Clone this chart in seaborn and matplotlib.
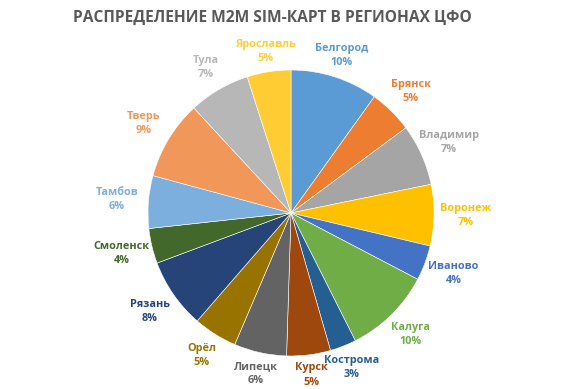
import matplotlib
matplotlib.use("Agg")
import matplotlib.pyplot as plt
import numpy as np
import seaborn as sns

sns.set_theme(style="white")
plt.rcParams['font.family'] = ['Open Sans', 'DejaVu Sans']

regions = ["Белгород", "Брянск", "Владимир", "Воронеж", "Иваново", "Калуга",
           "Кострома", "Курск", "Липецк", "Орёл", "Рязань", "Смоленск",
           "Тамбов", "Тверь", "Тула", "Ярославль"]
shares = [10, 5, 7, 7, 4, 10, 3, 5, 6, 5, 8, 4, 6, 9, 7, 5]
colors = ["#5B9BD5", "#ED7D31", "#A5A5A5", "#FFC000", "#4472C4", "#70AD47",
          "#255E91", "#9E480E", "#636363", "#997300", "#264478", "#43682B",
          "#7CAFDD", "#F1975A", "#B7B7B7", "#FFCD33"]
title = "РАСПРЕДЕЛЕНИЕ M2M SIM-КАРТ В РЕГИОНАХ ЦФО"

W, H = 575, 389
fig = plt.figure(figsize=(W / 100, H / 100), dpi=100)
fig.patch.set_facecolor("white")
cx, cy, r = 291, 213, 143
ax = fig.add_axes([(cx - r) / W, (H - cy - r) / H, 2 * r / W, 2 * r / H])

labels = [f"{n}\n{v}%" for n, v in zip(regions, shares)]
wedges, texts = ax.pie(shares, labels=labels, colors=colors, startangle=90,
                       counterclock=False, labeldistance=1.2,
                       wedgeprops=dict(edgecolor="white", linewidth=0.4),
                       textprops=dict(fontsize=7.8, fontweight="bold"))
for w, t, c in zip(wedges, texts, colors):
    mid = np.deg2rad((w.theta1 + w.theta2) / 2)
    d = 1.13 + 0.09 * abs(np.cos(mid))
    t.set_position((d * np.cos(mid), d * np.sin(mid)))
    t.set_color(c)
    t.set_ha("center")
    t.set_va("center")
    t.set_linespacing(1.4)
ax.set_xlim(-1, 1)
ax.set_ylim(-1, 1)
ax.set_aspect("equal")

fig.text(272 / W, 1 - 18 / H, title, ha="center", va="center",
         fontsize=11.2, fontweight="bold", color="#595959")

fig.savefig("out.png", dpi=100, facecolor="white")
